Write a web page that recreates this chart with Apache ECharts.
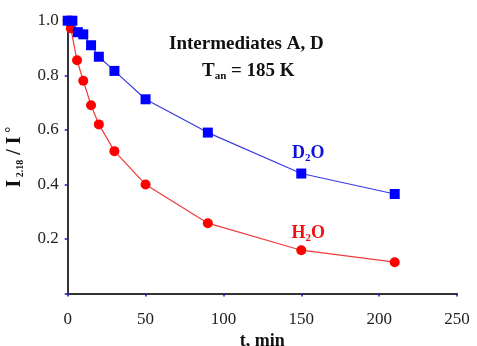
<!DOCTYPE html>
<html><head><meta charset="utf-8">
<script src="https://cdn.jsdelivr.net/npm/echarts@6/dist/echarts.min.js"></script>
<style>html,body{margin:0;padding:0;background:#fff}#c{width:477px;height:346px}</style>
</head><body><div id="c"></div>
<script>
const d2oTime = [0, 3, 6.5, 10, 15, 20, 30, 50, 90, 150, 210];
const d2oValues = [1.0, 1.0, 0.958, 0.95, 0.91, 0.868, 0.816, 0.712, 0.59, 0.44, 0.365];
const h2oTime = [0, 2, 6, 10, 15, 20, 30, 50, 90, 150, 210];
const h2oValues = [1.0, 0.972, 0.855, 0.78, 0.69, 0.62, 0.522, 0.40, 0.258, 0.159, 0.115];
const xTicks = [0, 50, 100, 150, 200, 250];
const yTicks = [0.2, 0.4, 0.6, 0.8, 1.0];
const seriesNames = ['D2O', 'H2O'];
const annotTitle = 'Intermediates A, D';

const serif = '"Liberation Serif","DejaVu Serif",serif';
function pairs(xs, ys){ return xs.map((x,i)=>[x, ys[i]]); }
function labelled(xs, ys, at, text, color, dist){
  return pairs(xs, ys).map((p)=> p[0]===at ? {value:p, label:{show:true, position:'top', distance:dist, offset:[7,0], formatter:text, color:color,
    rich:{b:{fontFamily:serif,fontWeight:'bold',fontSize:18,color:color}, s:{fontFamily:serif,fontWeight:'bold',fontSize:11,color:color,padding:[9,0,0,0]}}}} : {value:p});
}
const chart = echarts.init(document.getElementById('c'), null, {renderer:'canvas'});
chart.setOption({
  animation:false,
  backgroundColor:'#fff',
  grid:{left:67.7, right:20, top:20.7, bottom:52.4, containLabel:false, outerBoundsMode:'none'},
  xAxis:{type:'value', min:0, max:250, interval:50,
    name:'t, min', nameLocation:'middle', nameGap:39,
    nameTextStyle:{fontFamily:serif, fontWeight:'bold', fontSize:18, color:'#111'},
    axisLine:{lineStyle:{color:'#333', width:2}},
    axisTick:{show:true, length:3, lineStyle:{color:'#1a1acc', width:1.5}},
    splitLine:{show:false},
    axisLabel:{fontFamily:serif, fontSize:17, color:'#222', margin:17,
      formatter:(v)=> xTicks.includes(v) ? String(v) : ''}
  },
  yAxis:{type:'value', min:0, max:1, interval:0.2,
    name:'{b|I}{s| 2.18}{b| / I}{o| °}', nameLocation:'middle', nameRotate:90, nameGap:41,
    nameTextStyle:{fontFamily:serif, fontWeight:'bold', fontSize:19, color:'#111',
      rich:{b:{fontFamily:serif,fontWeight:'bold',fontSize:20,color:'#111'},
            s:{fontFamily:serif,fontWeight:'bold',fontSize:10,color:'#111',padding:[11,0,0,0]},
            o:{fontFamily:serif,fontWeight:'bold',fontSize:15,color:'#111',padding:[0,0,8,0]}}},
    axisLine:{show:true, lineStyle:{color:'#333', width:2}},
    axisTick:{show:true, length:3, lineStyle:{color:'#1a1acc', width:1.5}},
    splitLine:{show:false},
    axisLabel:{fontFamily:serif, fontSize:17, color:'#222', margin:9,
      formatter:(v)=> yTicks.some(t=>Math.abs(t-v)<1e-9) ? v.toFixed(1) : ''}
  },
  series:[
    {name:seriesNames[1], type:'line', data:labelled(h2oTime, h2oValues, 150, '{b|H}{s|2}{b|O}', '#ee1111', 2),
      symbol:'circle', symbolSize:10, itemStyle:{color:'#ff0000'}, lineStyle:{color:'#ee3b3b', width:1.2}, z:2},
    {name:seriesNames[0], type:'line', data:labelled(d2oTime, d2oValues, 150, '{b|D}{s|2}{b|O}', '#1111dd', 5),
      symbol:'rect', symbolSize:10, itemStyle:{color:'#0000ff'}, lineStyle:{color:'#3a3ae6', width:1.2}, z:3}
  ],
  graphic:[
    {type:'text', left:169, top:35, style:{text:annotTitle, font:'bold 19px '+serif, fill:'#111'}},
    {type:'text', left:202, top:62, style:{text:'{b|T}{s|an}{b| = 185 K}', fill:'#111',
      rich:{b:{fontFamily:serif,fontWeight:'bold',fontSize:19,fill:'#111'}, s:{fontFamily:serif,fontWeight:'bold',fontSize:11,fill:'#111',padding:[9,0,0,0]}}}}
  ]
});
</script></body></html>
